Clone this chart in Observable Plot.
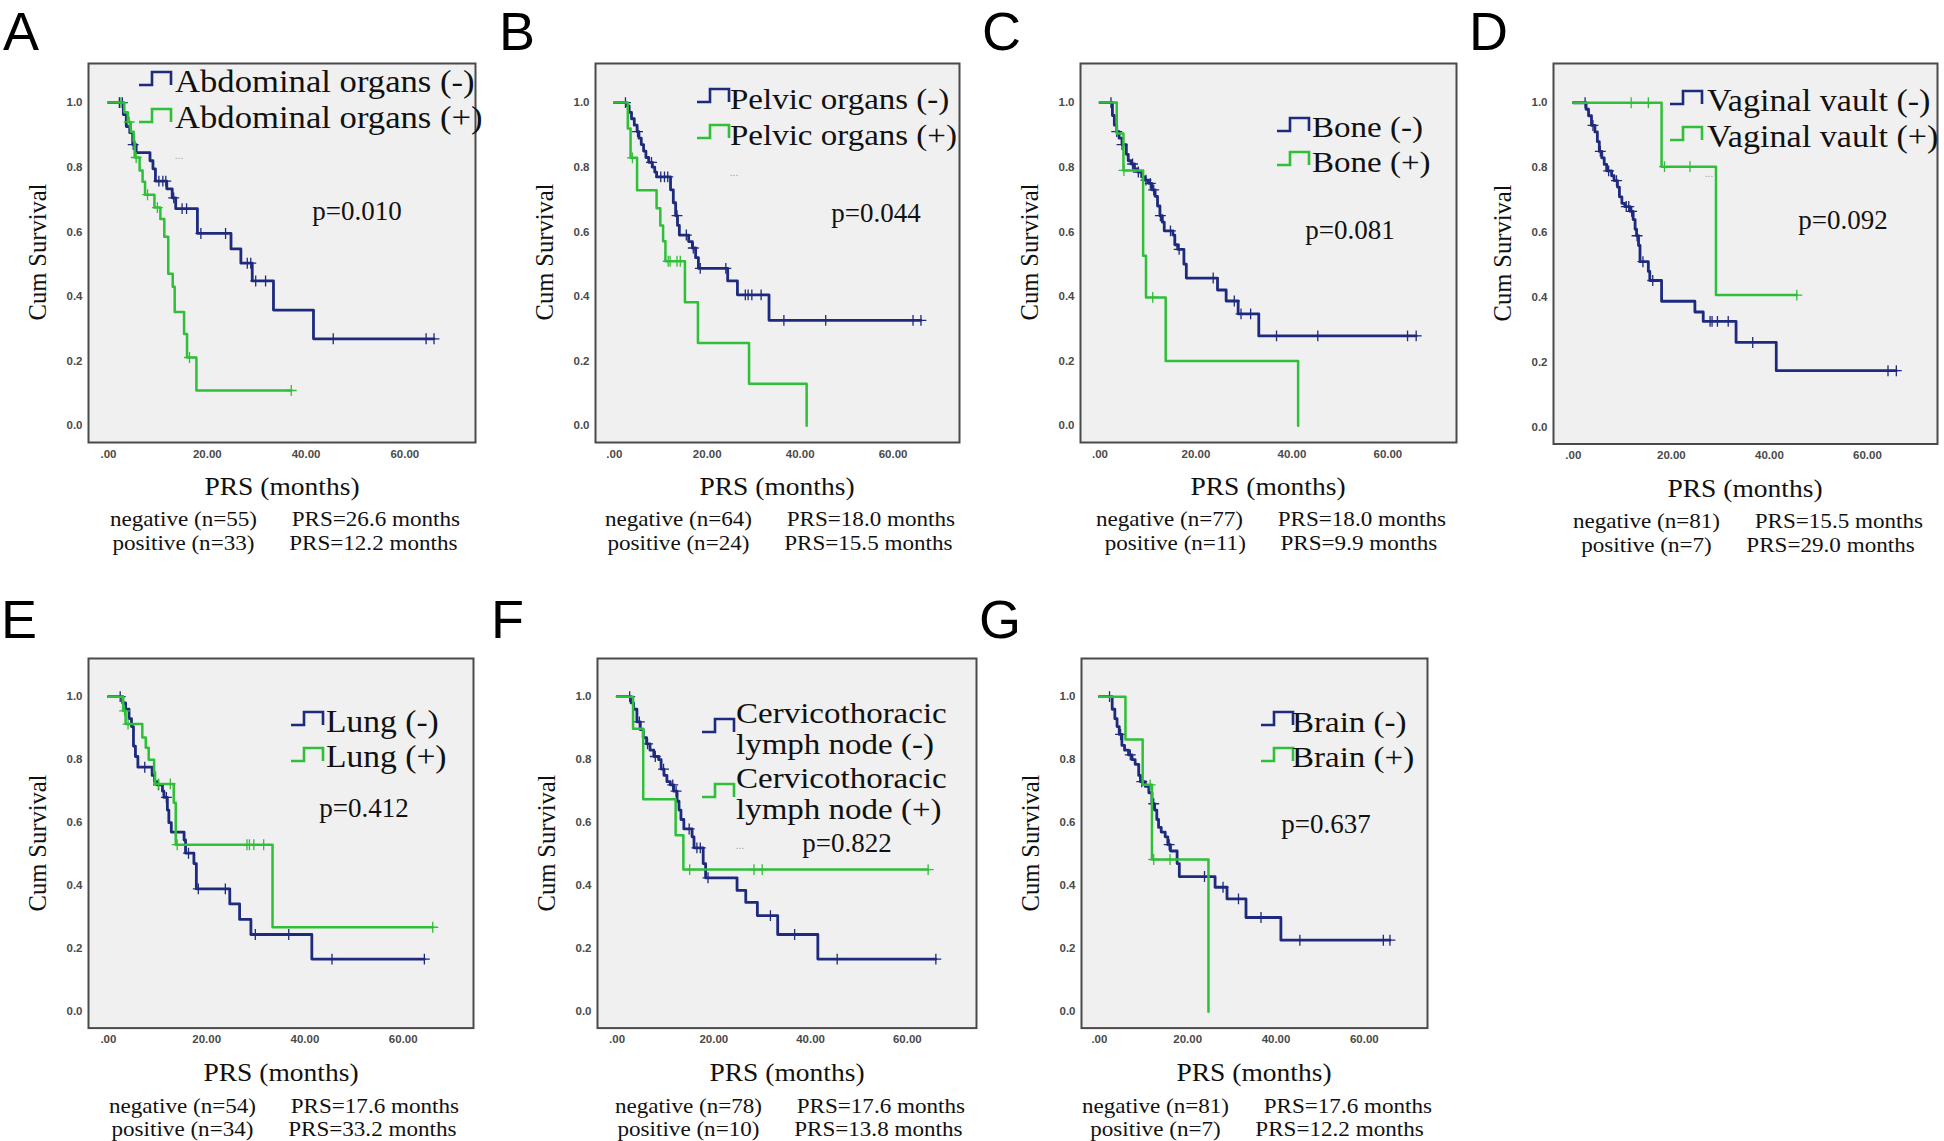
<!DOCTYPE html>
<html><head><meta charset="utf-8">
<script src="https://cdn.jsdelivr.net/npm/d3@7"></script>
<script src="https://cdn.jsdelivr.net/npm/@observablehq/plot@0.6"></script>
<style>
html,body{margin:0;padding:0;background:#fff;overflow:hidden;}
#fig{position:relative;width:1944px;height:1141px;background:#fff;overflow:hidden;}
.t{position:absolute;white-space:pre;line-height:1;}
</style></head><body><div id="fig"></div>
<script>
// ---------------- DATA ----------------
const panelLetters = ["A","B","C","D","E","F","G"];
const legendNeg = ["Abdominal organs (-)","Pelvic organs (-)","Bone (-)","Vaginal vault (-)","Lung (-)","Cervicothoracic\nlymph node (-)","Brain (-)"];
const legendPos = ["Abdominal organs (+)","Pelvic organs (+)","Bone (+)","Vaginal vault (+)","Lung (+)","Cervicothoracic\nlymph node (+)","Brain (+)"];
const pValues = ["p=0.010","p=0.044","p=0.081","p=0.092","p=0.412","p=0.822","p=0.637"];
const negN = [55,64,77,81,54,78,81];
const posN = [33,24,11,7,34,10,7];
const negPRS = ["26.6","18.0","18.0","15.5","17.6","17.6","17.6"];
const posPRS = ["12.2","15.5","9.9","29.0","33.2","13.8","12.2"];
const xTickValues = [0,20,40,60];
const xTickLabels = [".00","20.00","40.00","60.00"];
const yTickValues = [0,0.2,0.4,0.6,0.8,1.0];
const yTickLabels = ["0.0","0.2","0.4","0.6","0.8","1.0"];
const xTitle = "PRS (months)";
const yTitle = "Cum Survival";

// Kaplan-Meier steps: [time (months), survival after drop]; censor times
const A_neg = [[0,1],[3.0,0.963],[3.6,0.926],[4.3,0.907],[4.9,0.87],[5.6,0.845],[8.4,0.82],[9.0,0.795],[9.5,0.757],[11.8,0.733],[12.9,0.705],[13.6,0.672],[18.0,0.595],[24.8,0.547],[26.8,0.503],[29.1,0.448],[33.4,0.358],[41.5,0.269]];
const A_negCens = [2.2,2.8,5.0,10.2,11.0,11.6,13.2,14.9,15.8,18.7,23.7,28.1,28.8,29.8,31.8,45.5,64.3,65.9];
const A_pos = [[0,1],[3.2,0.97],[3.9,0.94],[4.5,0.91],[5.1,0.88],[5.3,0.83],[6.3,0.79],[6.9,0.755],[7.4,0.715],[9.3,0.675],[10.5,0.64],[11.3,0.585],[12.1,0.47],[13.0,0.43],[13.4,0.352],[15.3,0.284],[15.9,0.211],[17.8,0.109]];
const A_posCens = [2.5,4.2,5.6,7.9,9.9,16.4,37.0];

const B_neg = [[0,1],[2.6,0.99],[3.2,0.97],[3.7,0.95],[4.3,0.93],[4.9,0.91],[5.3,0.89],[5.8,0.87],[6.3,0.85],[6.8,0.83],[7.4,0.815],[8.2,0.80],[8.7,0.785],[9.1,0.77],[12.1,0.73],[12.7,0.69],[13.2,0.65],[13.6,0.62],[14.0,0.59],[16.0,0.57],[16.8,0.55],[17.5,0.52],[18.1,0.487],[24.4,0.448],[26.5,0.405],[33.3,0.326]];
const B_negCens = [2.4,5.0,8.0,10.0,10.8,11.5,13.5,15.5,17.0,18.5,24.0,28.2,28.8,29.6,31.6,36.5,45.5,64.3,66.0];
const B_pos = [[0,1],[2.9,0.92],[3.5,0.829],[4.9,0.729],[9.1,0.673],[9.9,0.62],[10.5,0.571],[11.0,0.509],[15.2,0.382],[18.0,0.256],[29.0,0.13],[41.4,0.0]];
const B_posCens = [3.9,11.6,12.0,13.5,14.2];

const C_neg = [[0,1],[2.6,0.96],[3.0,0.93],[3.5,0.91],[4.0,0.89],[4.6,0.87],[5.5,0.84],[5.9,0.82],[6.5,0.81],[7.2,0.795],[7.9,0.785],[8.7,0.77],[9.4,0.76],[10.1,0.75],[10.8,0.73],[11.5,0.71],[12.0,0.68],[12.5,0.65],[13.0,0.63],[13.4,0.603],[15.2,0.59],[15.6,0.56],[16.2,0.546],[17.5,0.50],[18.0,0.457],[24.5,0.42],[26.3,0.386],[28.8,0.346],[33.1,0.278]];
const C_negCens = [2.3,3.5,4.6,6.8,8.0,9.6,10.5,11.2,12.6,14.7,16.5,23.6,28.0,29.4,31.4,36.8,45.4,64.1,65.9];
const C_pos = [[0,1],[3.5,0.904],[4.9,0.79],[9.0,0.526],[9.6,0.397],[13.7,0.2],[41.3,0.0]];
const C_posCens = [5.0,11.0];

const D_neg = [[0,1],[2.6,0.98],[3.1,0.96],[3.7,0.93],[4.4,0.91],[4.9,0.88],[5.3,0.85],[5.8,0.83],[6.3,0.81],[6.8,0.79],[7.8,0.775],[8.3,0.76],[9.0,0.74],[9.4,0.71],[9.9,0.69],[10.5,0.68],[11.6,0.665],[12.2,0.64],[12.6,0.61],[12.9,0.59],[13.3,0.56],[13.6,0.51],[15.3,0.48],[15.6,0.452],[18.0,0.388],[24.8,0.355],[26.5,0.326],[33.2,0.261],[41.4,0.174]];
const D_negCens = [2.4,4.0,5.5,7.2,8.8,10.8,11.3,11.9,13.0,14.2,16.2,27.9,28.3,29.4,31.6,36.6,64.2,65.9];
const D_pos = [[0,1],[18.0,0.803],[29.1,0.407]];
const D_posCens = [11.8,15.3,18.6,23.8,45.6];

const E_neg = [[0,1],[2.9,0.98],[3.5,0.96],[4.2,0.93],[4.7,0.905],[5.1,0.843],[5.5,0.81],[6.0,0.776],[8.9,0.75],[9.4,0.73],[9.9,0.72],[11.0,0.70],[11.3,0.68],[12.0,0.64],[12.3,0.60],[12.8,0.57],[15.4,0.545],[15.7,0.503],[17.4,0.47],[17.9,0.39],[24.7,0.342],[26.7,0.293],[29.0,0.245],[41.4,0.167]];
const E_negCens = [2.4,7.4,10.2,11.8,16.3,18.3,23.8,29.9,36.7,45.5,64.3];
const E_pos = [[0,1],[3.0,0.955],[3.5,0.913],[6.9,0.87],[7.6,0.838],[8.2,0.80],[9.3,0.76],[9.5,0.723],[13.3,0.663],[13.7,0.53],[33.4,0.268]];
const E_posCens = [3.3,4.0,10.2,12.6,14.0,28.2,28.7,29.6,31.6,66.0];

const F_neg = [[0,1],[2.9,0.98],[3.4,0.96],[4.1,0.92],[4.8,0.895],[5.4,0.87],[6.1,0.85],[6.8,0.83],[7.6,0.81],[8.6,0.80],[9.1,0.77],[9.7,0.75],[10.3,0.73],[11.0,0.72],[11.7,0.70],[12.4,0.668],[12.8,0.64],[13.2,0.61],[13.8,0.58],[15.5,0.555],[15.9,0.52],[17.8,0.47],[18.3,0.425],[24.8,0.385],[26.6,0.347],[29.0,0.305],[33.2,0.245],[41.5,0.167]];
const F_negCens = [2.6,4.6,6.3,7.9,9.6,11.5,12.2,14.9,16.5,17.2,18.8,31.7,36.7,45.5,65.9];
const F_pos = [[0,1],[3.3,0.898],[5.4,0.674],[12.1,0.56],[13.7,0.451]];
const F_posCens = [15.0,28.3,30.0,64.3];

const G_neg = [[0,1],[2.9,0.96],[3.5,0.93],[4.0,0.905],[4.5,0.88],[5.1,0.845],[5.7,0.83],[6.6,0.815],[7.4,0.80],[8.1,0.785],[8.9,0.75],[9.3,0.73],[10.4,0.715],[11.2,0.695],[11.9,0.66],[12.5,0.64],[13.0,0.61],[13.4,0.585],[14.0,0.57],[14.9,0.555],[15.5,0.53],[16.1,0.51],[17.6,0.47],[18.1,0.429],[26.2,0.395],[28.9,0.358],[33.2,0.299],[41.1,0.227]];
const G_negCens = [2.3,4.8,7.0,9.6,12.3,15.8,23.8,28.0,31.5,36.6,45.4,64.3,65.8];
const G_pos = [[0,1],[5.9,0.864],[9.8,0.72],[11.9,0.483],[24.7,0.0]];
const G_posCens = [11.5,12.3,16.0];

// ---------------- LAYOUT (page pixels) ----------------
const layout = [
  {frame:[88,62.7,475,441.7],   letter:[3,30.5],    icon:138.5, text:174.5, rows:[81.8,118.1], lg:31.5, p:[357,210.8],  dots:[179,156]},
  {frame:[595,62.7,959,441.7],  letter:[499,30.5],  icon:697,   text:730,   rows:[98.9,134.5], lg:30,   p:[876,212.6],  dots:[734,172.7]},
  {frame:[1080,62.7,1456,441.7],letter:[982,30.5],  icon:1277,  text:1312,  rows:[127.2,161.8],lg:30,   p:[1350,229.7], dots:null},
  {frame:[1553,63,1937,443.5],  letter:[1469,30.5], icon:1670,  text:1707,  rows:[100,136.3],  lg:31,   p:[1843,220],   dots:[1709,173.7]},
  {frame:[88,658.4,473,1028],   letter:[1,619.2],   icon:291,   text:326,   rows:[721.5,757],  lg:30.5, p:[364,807.7],  dots:null},
  {frame:[597,658.4,976,1028],  letter:[491,619.2], icon:702,   text:736,   rows:[728.8,793.7],lg:30,   p:[847,843],    dots:[740,845.6]},
  {frame:[1081,658.4,1427,1028],letter:[979,619.2], icon:1261,  text:1292,  rows:[721.5,757],  lg:30,   p:[1326,824.4], dots:null}
];
const negSteps = [A_neg,B_neg,C_neg,D_neg,E_neg,F_neg,G_neg];
const negCens = [A_negCens,B_negCens,C_negCens,D_negCens,E_negCens,F_negCens,G_negCens];
const posSteps = [A_pos,B_pos,C_pos,D_pos,E_pos,F_pos,G_pos];
const posCens = [A_posCens,B_posCens,C_posCens,D_posCens,E_posCens,F_posCens,G_posCens];

const NAVY = "#1e2a7e", GREEN = "#2fbf38";
const xDomain = [-4.05, 74.3], yDomain = [-0.052, 1.121];
const SERIF = '"Liberation Serif","Times New Roman",serif';
const SANS = '"Liberation Sans",Arial,sans-serif';
const fig = document.getElementById("fig");

function sAt(steps, t){ let s = 1; for (const [tt,ss] of steps) if (tt <= t) s = ss; return s; }
function lineData(steps, cens){
  const pts = steps.map(([t,s]) => ({t, s}));
  const last = steps[steps.length-1];
  const end = cens.length ? Math.max(...cens) : last[0];
  if (end > last[0] && last[1] > 0) pts.push({t:end, s:last[1]});
  return pts;
}
function censData(steps, cens){ return cens.map(t => ({t, s: sAt(steps, t)})); }

function addText(str, x, y, o){
  const d = document.createElement("div");
  d.className = "t";
  if (o.html) d.innerHTML = str; else d.textContent = str;
  const anchor = o.anchor || "start";
  const tx = anchor==="start" ? "0" : anchor==="middle" ? "-50%" : "-100%";
  const ox = anchor==="start" ? "left" : anchor==="middle" ? "center" : "right";
  Object.assign(d.style, {left:x+"px", top:y+"px", fontSize:o.size+"px", fontFamily:o.family||SERIF,
    color:o.color||"#111", fontWeight:o.weight||"normal", lineHeight:o.lh||"1",
    transformOrigin: ox+" center",
    transform:`translate(${tx},-50%) scaleX(${o.sx||1})` + (o.rotate ? ` rotate(${o.rotate}deg)` : "")});
  fig.appendChild(d);
  return d;
}
function addIcon(x, cy, color){
  const ns = "http://www.w3.org/2000/svg";
  const s = document.createElementNS(ns, "svg");
  s.setAttribute("width", 36); s.setAttribute("height", 18);
  Object.assign(s.style, {position:"absolute", left:(x-1)+"px", top:(cy-8.5)+"px", overflow:"visible"});
  const p = document.createElementNS(ns, "path");
  p.setAttribute("d", "M1,15H14V2H33V15");
  p.setAttribute("fill", "none"); p.setAttribute("stroke", color); p.setAttribute("stroke-width", "2.6");
  s.appendChild(p); fig.appendChild(s);
}

layout.forEach((L, i) => {
  const [fl, ft, fr, fb] = L.frame;
  const mL = 60, mT = 10, mR = 6, mB = 28;
  const neg = lineData(negSteps[i], negCens[i]);
  const pos = lineData(posSteps[i], posCens[i]);
  const chart = Plot.plot({
    width: fr - fl + mL + mR, height: fb - ft + mT + mB,
    marginLeft: mL, marginTop: mT, marginRight: mR, marginBottom: mB,
    style: {fontFamily: SANS, fontSize: "11.5px", fontWeight: "bold", color: "#4a4a4a", background: "transparent", overflow: "visible"},
    x: {domain: xDomain, ticks: xTickValues, tickFormat: d => xTickLabels[xTickValues.indexOf(d)], tickSize: 0, tickPadding: 7, label: null},
    y: {domain: yDomain, ticks: yTickValues, tickFormat: d => yTickLabels[yTickValues.findIndex(v => Math.abs(v-d) < 1e-9)], tickSize: 0, tickPadding: 6, label: null},
    marks: [
      Plot.frame({fill: "#f0f0f0", stroke: "#4a4a4a", strokeWidth: 2}),
      Plot.line(neg, {x: "t", y: "s", curve: "step-after", stroke: NAVY, strokeWidth: 2.8}),
      Plot.dot(censData(negSteps[i], negCens[i]), {x: "t", y: "s", symbol: "plus", r: 3.6, stroke: NAVY, strokeWidth: 1.3}),
      Plot.line(pos, {x: "t", y: "s", curve: "step-after", stroke: GREEN, strokeWidth: 2.5}),
      Plot.dot(censData(posSteps[i], posCens[i]), {x: "t", y: "s", symbol: "plus", r: 3.6, stroke: GREEN, strokeWidth: 1.3})
    ]
  });
  Object.assign(chart.style, {position: "absolute", left: (fl - mL) + "px", top: (ft - mT) + "px"});
  fig.appendChild(chart);

  const cx = (fl + fr) / 2, cy = (ft + fb) / 2;
  // panel letter
  addText(panelLetters[i], L.letter[0], L.letter[1], {size: 54, family: SANS, color: "#000"});
  // axis titles
  addText(yTitle, fl - 50, cy, {size: 24.5, anchor: "middle", rotate: -90});
  addText(xTitle, cx, fb + 44, {size: 25, anchor: "middle", sx: 1.1});
  // stats
  const gap = '<span style="display:inline-block;width:33px"></span>';
  addText(`negative (n=${negN[i]})${gap}PRS=${negPRS[i]} months`, cx + 3, fb + 77.5, {size: 22, anchor: "middle", sx: 1.05, html: true});
  addText(`positive (n=${posN[i]})${gap}PRS=${posPRS[i]} months`, cx + 3, fb + 101, {size: 22, anchor: "middle", sx: 1.05, html: true});
  // legend
  const two = legendNeg[i].includes("\n");
  addIcon(L.icon, L.rows[0] - 3, NAVY);
  addIcon(L.icon, L.rows[1] - 3, GREEN);
  addText(legendNeg[i], L.text, L.rows[0], {size: L.lg, sx: 1.1, lh: two ? "31.6px" : "1"});
  addText(legendPos[i], L.text, L.rows[1], {size: L.lg, sx: 1.1, lh: two ? "31.6px" : "1"});
  // p value
  addText(pValues[i], L.p[0], L.p[1], {size: 27, anchor: "middle"});
  if (L.dots) addText("...", L.dots[0], L.dots[1], {size: 10, anchor: "middle", color: "#999", family: SANS});
});
</script></body></html>
